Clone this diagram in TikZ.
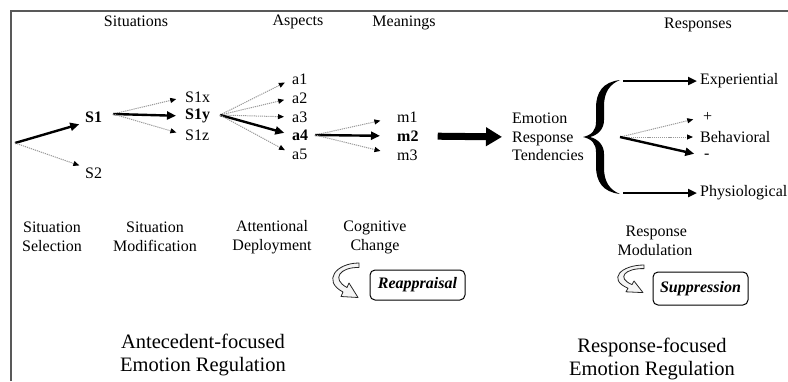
\documentclass[tikz,border=0pt]{standalone}
\usepackage{fontspec}
\setmainfont{Liberation Serif}
\usetikzlibrary{arrows.meta}
\begin{document}
\begin{tikzpicture}[x=1pt,y=-1pt,
  lab/.style={inner sep=0pt, anchor=west, font=\fontsize{16}{18}\selectfont},
  title/.style={inner sep=0pt, font=\fontsize{16}{18}\selectfont},
  stage/.style={inner sep=0pt, align=center, font=\fontsize{16}{18.5}\selectfont},
  big/.style={inner sep=0pt, align=center, font=\fontsize{20.5}{23}\selectfont},
  rbox/.style={draw, line width=1pt, rounded corners=5pt, minimum width=95pt, font=\fontsize{16}{18}\selectfont\bfseries\itshape},
  thinarr/.style={draw=gray!80, line width=1pt, dash pattern=on 1.2pt off 0.9pt, -{Triangle[length=6pt,width=5pt,color=black]}},
  thickarr/.style={draw=black, line width=2.4pt, -{Triangle[length=9pt,width=8pt]}},
  bigarr/.style={draw=black, line width=7pt, -{Triangle[length=16pt,width=18pt]}},
  curlarrow/.pic={
    \filldraw[fill=gray!8, draw=black!85, line width=0.8pt, line join=round]
      (1,0) .. controls (-22,0) and (-36,18) .. (-15,29) -- (-17,33.5) -- (0,34.5)
      -- (-9,20) -- (-11,24.5) .. controls (-27,16) and (-18,4) .. (1,4.5) -- cycle;
  }]
\useasboundingbox (0,0) rectangle (788,381);
% frame
\draw[gray!70!black, line width=2.5pt] (11,381) -- (11,11) -- (788,11);

% titles
\node[title] (tSit) at (136,21) {Situations};
\node[title] (tAsp) at (298,22) {Aspects};
\node[title] (tMea) at (404,23) {Meanings};
\node[title] (tRes) at (698,25) {Responses};

% situations
\coordinate (o) at (15,143);
\node[lab] (S1) at (85,117) {\bfseries S1};
\node[lab] (S2) at (85,173) {S2};
\draw[thickarr, shorten >=6pt] (o) -- (S1.south west);
\draw[thinarr, shorten >=6pt] (o) -- (S2.north west);

\coordinate (f1) at (113,114);
\node[lab] (S1x) at (185,97) {S1x};
\node[lab] (S1y) at (185,116) {\bfseries S1y};
\node[lab] (S1z) at (185,135) {S1z};
\draw[thinarr, shorten >=9pt] (f1) -- (S1x.west);
\draw[thickarr, shorten >=9pt] (f1) -- (S1y.west);
\draw[thinarr, shorten >=9pt] (f1) -- (S1z.west);

% aspects
\coordinate (f2) at (220,115);
\node[lab] (a1) at (292,79) {a1};
\node[lab] (a2) at (292,98) {a2};
\node[lab] (a3) at (292,117) {a3};
\node[lab] (a4) at (292,135) {\bfseries a4};
\node[lab] (a5) at (292,154) {a5};
\draw[thinarr, shorten >=8pt] (f2) -- (a1.west);
\draw[thinarr, shorten >=8pt] (f2) -- (a2.west);
\draw[thinarr, shorten >=8pt] (f2) -- (a3.west);
\draw[thickarr, shorten >=8pt] (f2) -- (a4.west);
\draw[thinarr, shorten >=8pt] (f2) -- (a5.west);

% meanings
\coordinate (f3) at (315,135);
\node[lab] (m1) at (397,117) {m1};
\node[lab] (m2) at (397,136) {\bfseries m2};
\node[lab] (m3) at (397,155) {m3};
\draw[thinarr, shorten >=17pt] (f3) -- (m1.west);
\draw[thickarr, shorten >=17pt] (f3) -- (m2.west);
\draw[thinarr, shorten >=17pt] (f3) -- (m3.west);

% emotion response tendencies
\node[inner sep=0pt, anchor=west, align=left, font=\fontsize{16}{18.5}\selectfont] (ert) at (512,137) {Emotion\\Response\\Tendencies};
\draw[bigarr, shorten <=19pt, shorten >=10pt] (m2.east) -- (ert.west);

% brace
\fill[black] (620,80) .. controls (603,82) and (596,92) .. (596,108) -- (596,122)
  .. controls (596,130) and (592,135) .. (583,137)
  .. controls (592,139) and (596,144) .. (596,152) -- (596,166)
  .. controls (596,182) and (603,192) .. (620,194)
  .. controls (610,190) and (604,182) .. (604,168) -- (604,154)
  .. controls (604,145) and (598,139) .. (590,137)
  .. controls (598,135) and (604,129) .. (604,120) -- (604,106)
  .. controls (604,92) and (610,84) .. (620,80) -- cycle;

% responses
\coordinate (e1) at (623,81);
\coordinate (b0) at (620,137);
\coordinate (p1) at (623,193);
\node[lab] (exp) at (700,81) {Experiential};
\node[lab] (plus) at (703,117) {+};
\node[lab] (beh) at (700,137) {Behavioral};
\node[lab] (minus) at (704,156) {-};
\node[lab] (phy) at (700,193) {Physiological};
\draw[thickarr, shorten >=3pt] (e1) -- (exp.west);
\draw[thinarr, shorten >=10pt] (b0) -- (plus.west);
\draw[thinarr, shorten >=7pt] (b0) -- (beh.west);
\draw[thickarr, shorten >=10pt] (b0) -- (minus.west);
\draw[thickarr, shorten >=3pt] (p1) -- (phy.west);

% stages
\node[stage] (ss) at (52,237) {Situation\\Selection};
\node[stage] (sm) at (155,237) {Situation\\Modification};
\node[stage] (ad) at (272,237) {Attentional\\Deployment};
\node[stage] (cc) at (375,237.5) {Cognitive\\Change};
\node[stage] (rm) at (655,241) {\,Response\\Modulation};

% strategies
\pic at (358,263) {curlarrow};
\node[rbox, minimum height=30pt] (reap) at (417.5,285) {Reappraisal};
\pic[yscale=0.8] at (643,265) {curlarrow};
\node[rbox, minimum height=33pt] (supp) at (700.5,288.5) {Suppression};

% big labels
\node[big] (aer) at (203,354.5) {Antecedent-focused\\Emotion Regulation};
\node[big] (rer) at (652,358.5) {Response-focused\\Emotion Regulation};
\end{tikzpicture}
\end{document}
